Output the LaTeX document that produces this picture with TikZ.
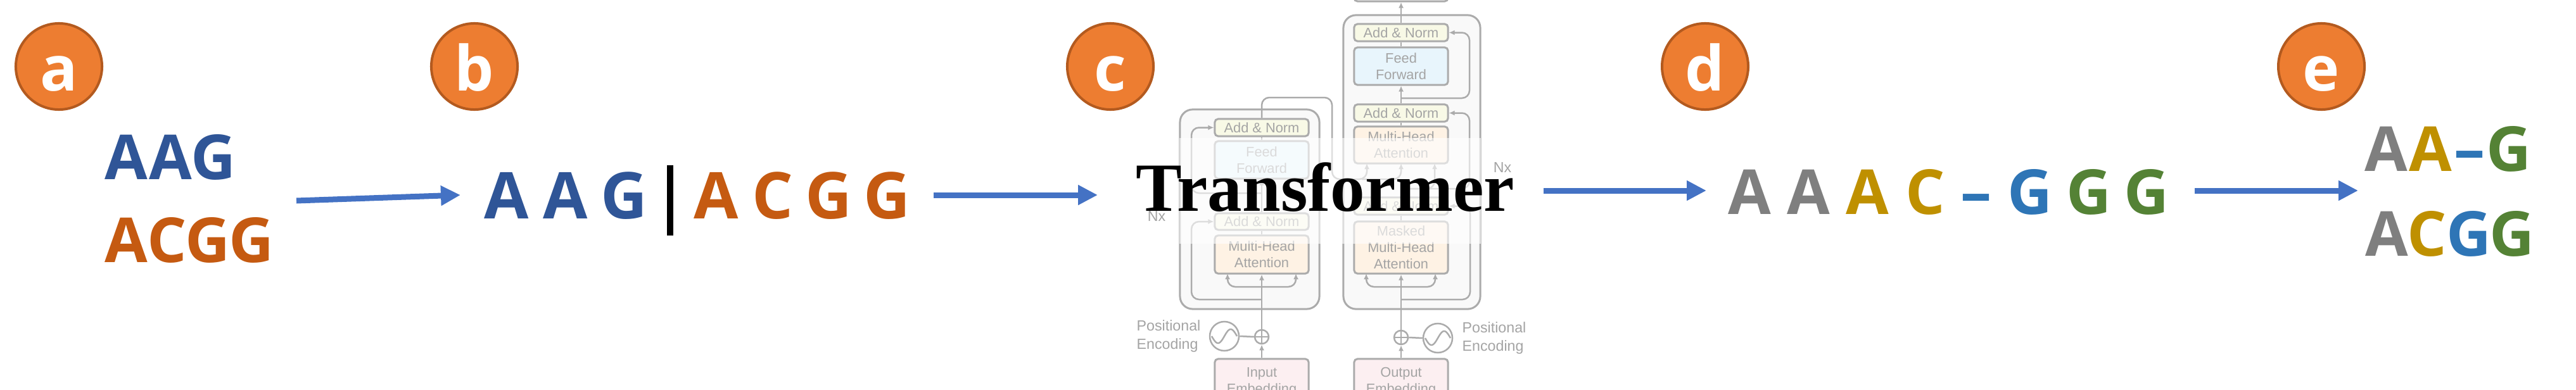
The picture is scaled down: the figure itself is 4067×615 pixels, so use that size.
\documentclass[tikz,border=0pt]{standalone}
\usepackage{fontspec}
\usetikzlibrary{arrows.meta}
\newfontfamily\osans{Open Sans}
\newfontfamily\lsans{Liberation Sans}
\newfontfamily\lserif{Liberation Serif}
\definecolor{arrowblue}{HTML}{4472C4}
\definecolor{circfill}{HTML}{ED7D31}
\definecolor{circdraw}{HTML}{B35A1F}
\definecolor{dblue}{HTML}{2F5597}
\definecolor{dorange}{HTML}{C55A11}
\definecolor{lgray}{HTML}{7F7F7F}
\definecolor{gold}{HTML}{BF9000}
\definecolor{mblue}{HTML}{2E75B6}
\definecolor{lgreen}{HTML}{548235}
\definecolor{tgray}{HTML}{ABABAB}
\definecolor{ttext}{HTML}{A4A4A4}
\definecolor{anfill}{HTML}{F8F9E6}
\definecolor{fffill}{HTML}{E8F5FC}
\definecolor{mhfill}{HTML}{FEF2E4}
\definecolor{embfill}{HTML}{FCEFF1}
\definecolor{outfill}{HTML}{F9F9F9}
\begin{document}
\begin{tikzpicture}[x=0.01cm,y=-0.01cm,
  circ/.style={circle, fill=circfill, draw=circdraw, line width=0.04cm, minimum size=1.36cm, inner sep=0},
  circlbl/.style={text=white, font=\osans\bfseries\fontsize{28}{30}\selectfont, inner sep=0, anchor=base},
  letter/.style={inner sep=0, anchor=base, font=\osans\bfseries\fontsize{27.9}{30}\selectfont},
  letterb/.style={inner sep=0, anchor=base, font=\osans\bfseries\fontsize{29}{31}\selectfont},
  bigarrow/.style={draw=arrowblue, line width=0.09cm, -{Triangle[length=0.31cm,width=0.30cm]}},
  tbox/.style={draw=tgray, line width=0.03cm, rounded corners=0.05cm, minimum width=1.48cm, inner sep=0, text=ttext, font=\lsans\fontsize{6.2}{7.4}\selectfont, align=center},
  outbox/.style={draw=tgray, line width=0.03cm, fill=outfill, rounded corners=0.2cm, inner sep=0},
  tline/.style={draw=tgray, line width=0.025cm},
  tarrow/.style={-{Latex[length=0.09cm,width=0.08cm]}},
  tlabel/.style={text=ttext, font=\lsans\fontsize{6.6}{8.5}\selectfont, align=left, inner sep=0},
  rc/.style={rounded corners=0.12cm}
]
\useasboundingbox (0,0) rectangle (4067,615);
\clip (0,0) rectangle (4067,615);

% ---------- circles ----------
\node[circ] (ca) at (93,105) {};
\node[circlbl] (la) at (93,143) {a};
\node[circ] (cb) at (749,105) {};
\node[circlbl] (lb) at (749,143) {b};
\node[circ] (cc) at (1753,105) {};
\node[circlbl] (lc) at (1753,143) {c};
\node[circ] (cd) at (2692,105) {};
\node[circlbl] (ld) at (2692,143) {d};
\node[circ] (ce) at (3665,105) {};
\node[circlbl] (le) at (3665,143) {e};

% ---------- panel a ----------
\node[letter, text=dblue] (a11) at (199.5,283) {A};
\node[letter, text=dblue] (a12) at (269,283) {A};
\node[letter, text=dblue] (a13) at (337.5,283) {G};
\node[letter, text=dorange] (a21) at (199.5,414) {A};
\node[letter, text=dorange] (a22) at (264,414) {C};
\node[letter, text=dorange] (a23) at (328.5,414) {G};
\node[letter, text=dorange] (a24) at (397,414) {G};

% ---------- panel b ----------
\node[letterb, text=dblue] (b1) at (800,345) {A};
\node[letterb, text=dblue] (b2) at (892.5,345) {A};
\node[letterb, text=dblue] (b3) at (985.5,345) {G};
\node[fill=black, minimum width=0.10cm, minimum height=1.11cm, inner sep=0] (bbar) at (1058,316.5) {};
\node[letterb, text=dorange] (b4) at (1130.5,345) {A};
\node[letterb, text=dorange] (b5) at (1220,345) {C};
\node[letterb, text=dorange] (b6) at (1308,345) {G};
\node[letterb, text=dorange] (b7) at (1400.5,345) {G};

% ---------- panel d ----------
\node[letter, text=lgray] (d1) at (2762.5,338) {A};
\node[letter, text=lgray] (d2) at (2855.5,338) {A};
\node[letter, text=gold] (d3) at (2948.5,338) {A};
\node[letter, text=gold] (d4) at (3039.5,338) {C};
\node[letter, text=mblue] (d5) at (3120,338) {–};
\node[letter, text=mblue] (d6) at (3205,338) {G};
\node[letter, text=lgreen] (d7) at (3297.5,338) {G};
\node[letter, text=lgreen] (d8) at (3389,338) {G};

% ---------- panel e ----------
\node[letter, text=lgray] (e11) at (3767.5,270) {A};
\node[letter, text=gold] (e12) at (3837.5,270) {A};
\node[letter, text=mblue] (e13) at (3899,270) {–};
\node[letter, text=lgreen] (e14) at (3961,270) {G};
\node[letter, text=lgray] (e21) at (3768.5,404) {A};
\node[letter, text=gold] (e22) at (3832,404) {C};
\node[letter, text=mblue] (e23) at (3897.5,404) {G};
\node[letter, text=lgreen] (e24) at (3965.5,404) {G};

% ---------- big arrows ----------
\coordinate (s1) at (468,317);
\coordinate (t1) at (727,308);
\coordinate (s2) at (1474,308);
\coordinate (t2) at (1733,308);
\coordinate (s3) at (2437,301);
\coordinate (t3) at (2694,301);
\coordinate (s4) at (3465,301);
\coordinate (t4) at (3723,301);
\draw[bigarrow] (s1) -- (t1);
\draw[bigarrow] (s2) -- (t2);
\draw[bigarrow] (s3) -- (t3);
\draw[bigarrow] (s4) -- (t4);

% ---------- transformer diagram (faded) ----------
\node[outbox, minimum width=2.20cm, minimum height=3.15cm] (encbox) at (1973,330.5) {};
\node[outbox, minimum width=2.16cm, minimum height=4.64cm] (decbox) at (2229,256) {};

% encoder boxes
\node[tbox, fill=anfill, minimum height=0.27cm] (eAN2) at (1992,201.5) {Add \& Norm};
\node[tbox, fill=fffill, minimum height=0.59cm] (eFF) at (1992,252.5) {Feed\\Forward};
\node[tbox, fill=anfill, minimum height=0.26cm] (eAN1) at (1992,350) {Add \& Norm};
\node[tbox, fill=mhfill, minimum height=0.60cm] (eMHA) at (1992,402) {Multi-Head\\Attention};
\node[tbox, fill=embfill, minimum height=0.73cm] (eEmb) at (1992,603.5) {Input\\Embedding};
\node[circle, draw=tgray, line width=0.025cm, minimum size=0.22cm, inner sep=0] (ePlus) at (1992,532) {};
\node[circle, draw=tgray, line width=0.025cm, minimum size=0.46cm, inner sep=0] (eSine) at (1933,531) {};
\draw[tline, shift={(1933,531)}] plot[domain=-20:20, samples=40, smooth] (\x,{-11*sin(9*\x)});
\draw[tline] (ePlus.north) -- (ePlus.south) (ePlus.west) -- (ePlus.east);

% decoder boxes
\node[tbox, fill=outfill, minimum height=0.32cm] (dLin) at (2212,-14) {};
\node[tbox, fill=anfill, minimum height=0.27cm] (dAN3) at (2212,51.5) {Add \& Norm};
\node[tbox, fill=fffill, minimum height=0.59cm] (dFF) at (2212,104.5) {Feed\\Forward};
\node[tbox, fill=anfill, minimum height=0.27cm] (dAN2) at (2212,178.5) {Add \& Norm};
\node[tbox, fill=mhfill, minimum height=0.58cm] (dMHA2) at (2212,229) {Multi-Head\\Attention};
\node[tbox, fill=anfill, minimum height=0.27cm] (dAN1) at (2212,325.5) {Add \& Norm};
\node[tbox, fill=mhfill, minimum height=0.82cm] (dMMHA) at (2212,391) {Masked\\Multi-Head\\Attention};
\node[tbox, fill=embfill, minimum height=0.73cm] (dEmb) at (2212,603.5) {Output\\Embedding};
\node[circle, draw=tgray, line width=0.025cm, minimum size=0.22cm, inner sep=0] (dPlus) at (2212,533) {};
\node[circle, draw=tgray, line width=0.025cm, minimum size=0.46cm, inner sep=0] (dSine) at (2270,534) {};
\draw[tline, shift={(2270,534)}] plot[domain=-20:20, samples=40, smooth] (\x,{-11*sin(9*\x)});
\draw[tline] (dPlus.north) -- (dPlus.south) (dPlus.west) -- (dPlus.east);

% labels
\node[tlabel] (peL) at (1845,531) {Positional\\Encoding};
\node[tlabel] (peR) at (2359,534) {Positional\\Encoding};
\node[tlabel] (nxL) at (1826,342) {Nx};
\node[tlabel] (nxR) at (2372,265) {Nx};

% encoder connectors
\coordinate (eBr0) at (1992,453);
\coordinate (eBr1) at (1992,473);
\coordinate (eBr2) at (1992,305);
\coordinate (eK) at (1938,432);
\coordinate (eQ) at (2046,432);
\coordinate (eR1) at (1881,350);
\coordinate (eR2) at (1881,201.5);
\coordinate (eo1) at (2103,154);
\coordinate (eo2) at (2150,283);
\coordinate (dK) at (2158,258);
\coordinate (dV) at (2212,258);
\coordinate (dQ) at (2265,258);
\draw[tline,tarrow] (eEmb.north) -- (ePlus.south);
\draw[tline,tarrow] (ePlus.north) -- (eMHA.south);
\draw[tline] (eSine.east) -- (ePlus.west);
\draw[tline,tarrow,rc] (eBr0) -| (eK);
\draw[tline,tarrow,rc] (eBr0) -| (eQ);
\draw[tline,tarrow,rc] (eBr1) -| (eR1) -- (eAN1.west);
\draw[tline] (eMHA.north) -- (eAN1.south);
\draw[tline,tarrow] (eAN1.north) -- (eFF.south);
\draw[tline,tarrow,rc] (eBr2) -| (eR2) -- (eAN2.west);
\draw[tline] (eFF.north) -- (eAN2.south);
\draw[tline,tarrow,rc] (eAN2.north) |- (eo1) |- (2158,283) -- (dK);
\draw[tline,tarrow,rc] (eo2) -| (dV);

% decoder connectors
\coordinate (dBr0) at (2212,453);
\coordinate (dBr1) at (2212,473);
\coordinate (dBr2) at (2212,298);
\coordinate (dBr3) at (2212,155);
\coordinate (dmK) at (2157,432);
\coordinate (dmQ) at (2266,432);
\coordinate (dR1) at (2321,325.5);
\coordinate (dR2) at (2320,178.5);
\coordinate (dR3) at (2320,51.5);
\draw[tline,tarrow] (dEmb.north) -- (dPlus.south);
\draw[tline,tarrow] (dPlus.north) -- (dMMHA.south);
\draw[tline] (dSine.west) -- (dPlus.east);
\draw[tline,tarrow,rc] (dBr0) -| (dmK);
\draw[tline,tarrow,rc] (dBr0) -| (dmQ);
\draw[tline,tarrow,rc] (dBr1) -| (dR1) -- (dAN1.east);
\draw[tline] (dMMHA.north) -- (dAN1.south);
\draw[tline,tarrow,rc] (dAN1.north) -- (dBr2) -| (dQ);
\draw[tline,tarrow,rc] (dBr2) -| (dR2) -- (dAN2.east);
\draw[tline] (dMHA2.north) -- (dAN2.south);
\draw[tline,tarrow] (dAN2.north) -- (dFF.south);
\draw[tline,tarrow,rc] (dBr3) -| (dR3) -- (dAN3.east);
\draw[tline] (dFF.north) -- (dAN3.south);
\draw[tline,tarrow] (dAN3.north) -- (dLin.south);

% translucent band and title
\fill[white, opacity=0.6] (1862,218) rectangle (2338,385);
\node[font=\lserif\bfseries\fontsize{31}{33}\selectfont, inner sep=0, anchor=base] (tf) at (2092.5,333) {Transformer};
\end{tikzpicture}
\end{document}
